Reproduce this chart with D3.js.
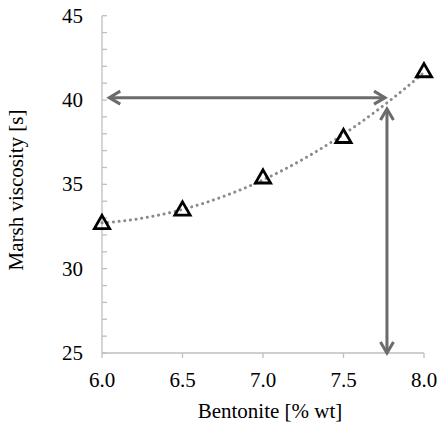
<!DOCTYPE html>
<html>
<head>
<meta charset="utf-8">
<title>Marsh viscosity vs bentonite</title>
<style>
  body { margin: 0; background: #fff; }
  svg text { font-family: "Times New Roman", "Liberation Serif", serif; font-size: 21px; }
</style>
</head>
<body>
<script src="https://d3js.org/d3.v7.min.js"></script>
<script>
// measured points
const bentonite = [6.0, 6.5, 7.0, 7.5, 8.0];
const viscosity = [32.7, 33.5, 35.4, 37.8, 41.7];

const xTicks = [6.0, 6.5, 7.0, 7.5, 8.0];
const yTicks = [25, 30, 35, 40, 45];
const yMinorTicks = d3.range(25, 46, 1);

// reading arrows: [x1, y1, x2, y2] in data units
const hArrow = [6.045, 40.14, 7.758, 40.14];
const vArrow = [7.77, 39.47, 7.77, 25.0];

const w = 437, h = 426;

const x = d3.scaleLinear().domain([6, 8]).range([102, 424]);
const y = d3.scaleLinear().domain([25, 45]).range([353, 15.7]);

const svg = d3.select("body").append("svg")
  .attr("width", w)
  .attr("height", h);

const axisColor = "#bfbfbf";

// tick labels and titles
svg.append("g").selectAll("text").data(yTicks).enter().append("text")
  .attr("x", 83)
  .attr("y", d => y(d) + 7)
  .attr("text-anchor", "end")
  .text(d => d);

svg.append("g").selectAll("text").data(xTicks).enter().append("text")
  .attr("x", d => x(d))
  .attr("y", 387)
  .attr("text-anchor", "middle")
  .text(d => d.toFixed(1));

svg.append("text")
  .attr("transform", "translate(23,190) rotate(-90)")
  .attr("text-anchor", "middle")
  .text("Marsh viscosity [s]");
svg.append("text")
  .attr("x", 270)
  .attr("y", 418)
  .attr("text-anchor", "middle")
  .text("Bentonite [% wt]");

// y axis
const yAxis = svg.append("g");
yAxis.append("line")
  .attr("x1", x(6)).attr("x2", x(6))
  .attr("y1", y(25)).attr("y2", y(45))
  .attr("stroke", axisColor).attr("stroke-width", 1.3);
yAxis.selectAll("line.tick").data(yMinorTicks).enter().append("line")
  .attr("class", "tick")
  .attr("x1", x(6)).attr("x2", x(6) + 5)
  .attr("y1", d => y(d)).attr("y2", d => y(d))
  .attr("stroke", axisColor).attr("stroke-width", 1.3);

// x axis
const xAxis = svg.append("g");
xAxis.append("line")
  .attr("x1", x(6)).attr("x2", x(8))
  .attr("y1", y(25)).attr("y2", y(25))
  .attr("stroke", axisColor).attr("stroke-width", 1.3);
xAxis.selectAll("line.tick").data(xTicks).enter().append("line")
  .attr("class", "tick")
  .attr("x1", d => x(d)).attr("x2", d => x(d))
  .attr("y1", y(25)).attr("y2", y(25) + 5)
  .attr("stroke", axisColor).attr("stroke-width", 1.3);

// second order polynomial trendline (least squares, like a spreadsheet trendline)
const n = bentonite.length;
const mx = d3.mean(bentonite);
const t = bentonite.map(v => v - mx);
const St = d3.sum(t), S2 = d3.sum(t, v => v * v), S3 = d3.sum(t, v => v ** 3), S4 = d3.sum(t, v => v ** 4);
const Sy = d3.sum(viscosity), Sty = d3.sum(t, (v, i) => v * viscosity[i]), St2y = d3.sum(t, (v, i) => v * v * viscosity[i]);
// normal equations solved with Cramer's rule
const M = [[n, St, S2], [St, S2, S3], [S2, S3, S4]];
const B = [Sy, Sty, St2y];
function det3(m) {
  return m[0][0] * (m[1][1] * m[2][2] - m[1][2] * m[2][1])
       - m[0][1] * (m[1][0] * m[2][2] - m[1][2] * m[2][0])
       + m[0][2] * (m[1][0] * m[2][1] - m[1][1] * m[2][0]);
}
const D = det3(M);
const coef = [0, 1, 2].map(k => det3(M.map((row, i) => row.map((v, j) => j === k ? B[i] : v))) / D);
const fit = xv => { const u = xv - mx; return coef[0] + coef[1] * u + coef[2] * u * u; };

const trendX = d3.range(6, 8.0001, 0.02);
svg.append("path")
  .datum(trendX)
  .attr("d", d3.line().x(d => x(d)).y(d => y(fit(d))))
  .attr("fill", "none")
  .attr("stroke", "#8a8a8a")
  .attr("stroke-width", 3)
  .attr("stroke-linecap", "round")
  .attr("stroke-dasharray", "0.1 5.6");

// arrows
const arrowColor = "#6b6b6b";
function arrow(a) {
  const g = svg.append("g");
  const x1 = x(a[0]), y1 = y(a[1]), x2 = x(a[2]), y2 = y(a[3]);
  g.append("line")
    .attr("x1", x1).attr("y1", y1).attr("x2", x2).attr("y2", y2)
    .attr("stroke", arrowColor).attr("stroke-width", 3);
  const ang = Math.atan2(y2 - y1, x2 - x1);
  [[x1, y1, ang + Math.PI], [x2, y2, ang]].forEach(([px, py, an]) => {
    const back = 11, side = 6.5;
    const bx = px - back * Math.cos(an), by = py - back * Math.sin(an);
    const ox = side * Math.sin(an), oy = -side * Math.cos(an);
    g.append("path")
      .attr("d", `M${bx + ox},${by + oy}L${px},${py}L${bx - ox},${by - oy}`)
      .attr("fill", "none")
      .attr("stroke", arrowColor)
      .attr("stroke-width", 3);
  });
}
arrow(hArrow);
arrow(vArrow);

// markers: open triangles
const tri = d3.symbol().type(d3.symbolTriangle).size(100);
svg.selectAll("path.pt").data(bentonite).enter().append("path")
  .attr("class", "pt")
  .attr("d", tri)
  .attr("transform", (d, i) => `translate(${x(d)},${y(viscosity[i]) + 1})`)
  .attr("fill", "none")
  .attr("stroke", "#000")
  .attr("stroke-width", 2.8);
</script>
</body>
</html>
